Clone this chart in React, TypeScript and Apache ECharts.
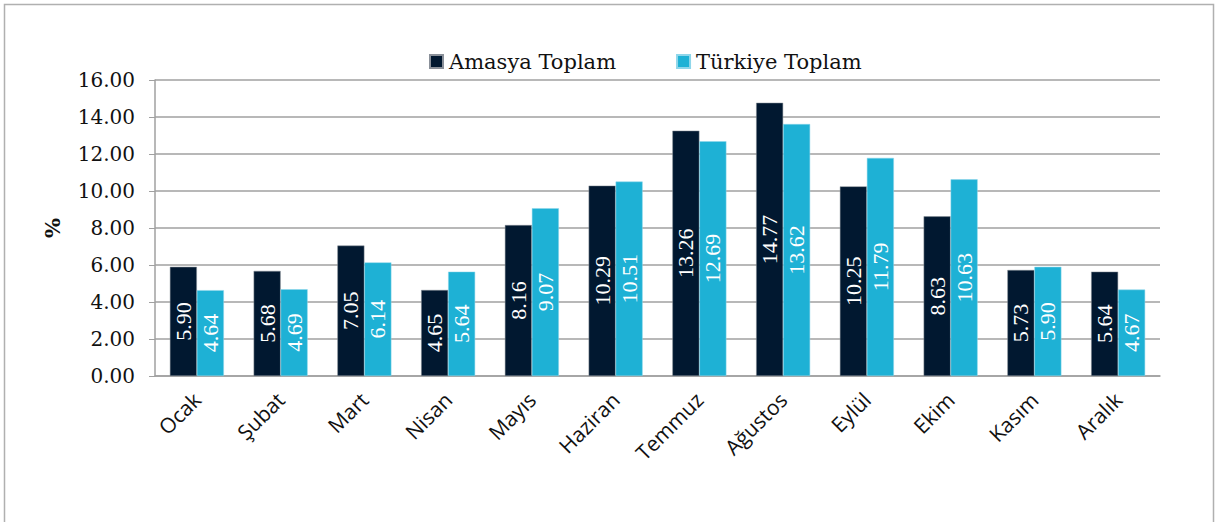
import React, { useEffect, useRef } from "react";
import * as echarts from "echarts";

const categories = ["Ocak", "Şubat", "Mart", "Nisan", "Mayıs", "Haziran", "Temmuz", "Ağustos", "Eylül", "Ekim", "Kasım", "Aralık"];
const amasya = [5.90, 5.68, 7.05, 4.65, 8.16, 10.29, 13.26, 14.77, 10.25, 8.63, 5.73, 5.64];
const turkiye = [4.64, 4.69, 6.14, 5.64, 9.07, 10.51, 12.69, 13.62, 11.79, 10.63, 5.90, 4.67];
const seriesNames = ["Amasya Toplam", "Türkiye Toplam"];

function makeLabel() {
  return {
    show: true,
    position: "inside",
    rotate: 90,
    color: "#ffffff",
    fontFamily: "Liberation Serif",
    fontSize: 22,
    formatter: (p: any) => Number(p.value).toFixed(2),
  };
}

export default function App() {
  const ref = useRef<HTMLDivElement>(null);
  useEffect(() => {
    document.body.style.margin = "0";
    const chart = echarts.init(ref.current!, null, { renderer: "svg" });
    chart.setOption({
      animation: false,
      backgroundColor: "#ffffff",
      graphic: [
        {
          type: "rect",
          shape: { x: 4.5, y: 4.5, width: 1209, height: 540 },
          style: { fill: "none", stroke: "#b0b0b0", lineWidth: 1.5 },
          silent: true,
        },
      ],
      legend: {
        top: 46,
        left: 424,
        itemWidth: 13,
        itemHeight: 13,
        itemGap: 60,
        icon: "rect",
        textStyle: { fontFamily: "DejaVu Serif", fontSize: 21, color: "#111111", padding: [0, 0, 0, 1] },
        data: seriesNames,
      },
      grid: { left: 155, right: 55, top: 80, bottom: 146, containLabel: false },
      xAxis: {
        type: "category",
        data: categories,
        axisLine: { lineStyle: { color: "#a0a0a0", width: 1.5 } },
        axisTick: { show: false },
        axisLabel: {
          rotate: 45,
          interval: 0,
          margin: 20,
          fontFamily: "Open Sans",
          fontSize: 21,
          color: "#111111",
        },
      },
      yAxis: {
        type: "value",
        min: 0,
        max: 16,
        interval: 2,
        name: "%",
        nameLocation: "middle",
        nameGap: 92,
        nameRotate: 90,
        nameTextStyle: { fontFamily: "DejaVu Serif", fontSize: 21, fontWeight: "bold", color: "#111111" },
        axisLine: { show: true, lineStyle: { color: "#a0a0a0", width: 1.5 } },
        axisTick: { show: true, length: 6, lineStyle: { color: "#a0a0a0" } },
        splitLine: { lineStyle: { color: "#a0a0a0", width: 1.5 } },
        axisLabel: {
          formatter: (v: number) => v.toFixed(2),
          fontFamily: "DejaVu Serif",
          fontSize: 20,
          color: "#111111",
          margin: 20,
        },
      },
      series: [
        {
          name: seriesNames[0],
          type: "bar",
          data: amasya,
          barWidth: 27,
          barGap: "0%",
          itemStyle: { color: "#011830", borderColor: "#8a9099", borderWidth: 0.5 },
          label: makeLabel(),
        },
        {
          name: seriesNames[1],
          type: "bar",
          data: turkiye,
          barWidth: 27,
          barGap: "0%",
          itemStyle: { color: "#1EB1D5", borderColor: "#8fd6ea", borderWidth: 0.5 },
          label: makeLabel(),
        },
      ],
    });
    return () => chart.dispose();
  }, []);
  return <div ref={ref} style={{ width: 1215, height: 522 }} />;
}
